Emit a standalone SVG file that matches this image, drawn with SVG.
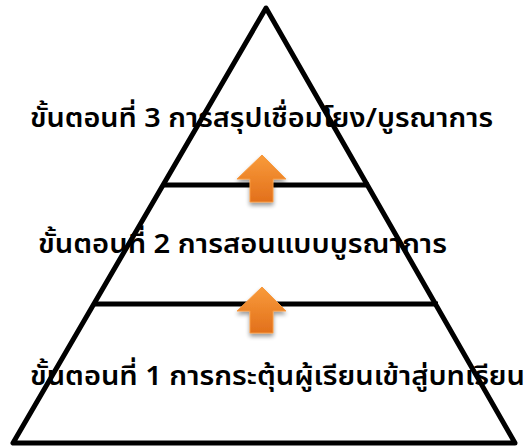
<svg xmlns="http://www.w3.org/2000/svg" width="527" height="446" viewBox="0 0 527 446">
<style>
.t{font-family:"Noto Sans","Noto Sans Thai","DejaVu Sans",sans-serif;font-size:27px;font-weight:600;fill:#000}
.ln{stroke:#000;stroke-width:5;fill:none;stroke-linejoin:round}
.arr{fill:url(#og);stroke:#f79a40;stroke-width:1;filter:url(#sh)}
</style>
<defs>
<linearGradient id="og" x1="0" y1="0" x2="0" y2="1">
<stop offset="0" stop-color="#f99b3a"/>
<stop offset="1" stop-color="#e2701c"/>
</linearGradient>
<filter id="sh" x="-30%" y="-30%" width="160%" height="170%">
<feGaussianBlur in="SourceAlpha" stdDeviation="2"/>
<feOffset dx="0" dy="3" result="b"/>
<feComponentTransfer><feFuncA type="linear" slope="0.4"/></feComponentTransfer>
<feMerge><feMergeNode/><feMergeNode in="SourceGraphic"/></feMerge>
</filter>
</defs>
<g id="labels">
<text id="step3" class="t" x="30" y="127" textLength="463" lengthAdjust="spacingAndGlyphs">ขั้นตอนที่ 3 การสรุปเชื่อมโยง/บูรณาการ</text>
<text id="step2" class="t" x="38" y="253" textLength="409" lengthAdjust="spacingAndGlyphs">ขั้นตอนที่ 2 การสอนแบบบูรณาการ</text>
<text id="step1" class="t" x="30" y="385" textLength="495" lengthAdjust="spacingAndGlyphs">ขั้นตอนที่ 1 การกระตุ้นผู้เรียนเข้าสู่บทเรียน</text>
</g>
<g id="pyramid">
<polygon class="ln" points="266,8 13,443 515,443"/>
<line class="ln" x1="163" y1="185" x2="369" y2="185"/>
<line class="ln" x1="94" y1="304" x2="438" y2="304"/>
</g>
<g id="connectors">
<polygon class="arr" points="262,155 286,179 273,179 273,202 250,202 250,179 237,179"/>
<polygon class="arr" points="262,287 286,311 273,311 273,333 250,333 250,311 237,311"/>
</g>
</svg>
